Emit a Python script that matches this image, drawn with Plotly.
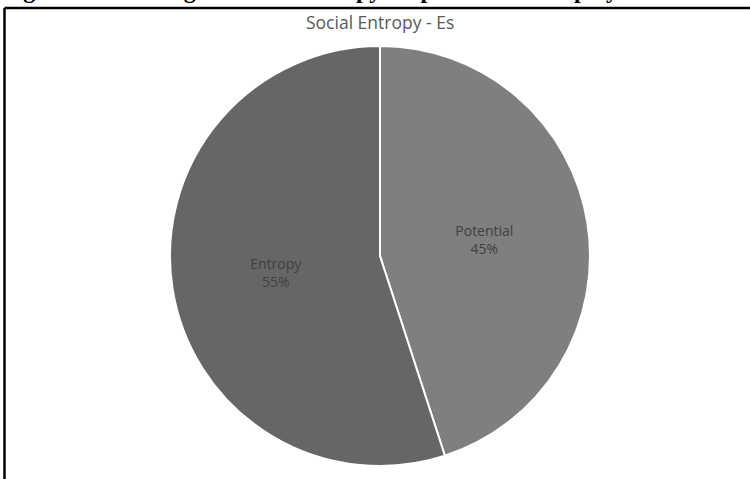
import plotly.graph_objects as go

labels = ["Potential", "Entropy"]
values = [45, 55]
colors = ["#7f7f7f", "#666666"]

W, H = 750, 479
cx, cy, r = 380, 256, 210

fig = go.Figure(go.Pie(
    labels=labels,
    values=values,
    sort=False,
    direction="clockwise",
    rotation=0,
    marker=dict(colors=colors, line=dict(color="white", width=2)),
    textinfo="label+percent",
    texttemplate="%{label}<br>%{percent:.0%}",
    textposition="inside",
    insidetextorientation="horizontal",
    textfont=dict(family="Open Sans, sans-serif", size=14, color="#404040"),
    domain=dict(x=[(cx - r) / W, (cx + r) / W], y=[1 - (cy + r) / H, 1 - (cy - r) / H]),
    showlegend=False,
    hoverinfo="label+percent",
))

fig.add_shape(type="line", xref="paper", yref="paper",
              x0=4.5 / W, x1=1.05, y0=1 - 8 / H, y1=1 - 8 / H,
              line=dict(color="black", width=2.5))
fig.add_shape(type="line", xref="paper", yref="paper",
              x0=4.5 / W, x1=4.5 / W, y0=-0.05, y1=1 - 8 / H,
              line=dict(color="black", width=2.5))

fig.add_annotation(text="<b>Figure 6 Percentage of social entropy vs. potential of employees in</b>",
                   xref="paper", yref="paper", x=0, y=1 - 5 / H,
                   xanchor="left", yanchor="bottom", showarrow=False,
                   font=dict(family="Liberation Serif", size=24, color="black"))
fig.add_annotation(text="Social Entropy - Es",
                   xref="paper", yref="paper", x=380 / W, y=1 - 22 / H,
                   xanchor="center", yanchor="middle", showarrow=False,
                   font=dict(family="Open Sans, sans-serif", size=17.5, color="#595959"))

fig.update_layout(width=W, height=H, margin=dict(l=0, r=0, t=0, b=0),
                  paper_bgcolor="white", plot_bgcolor="white")
fig.write_html("out.html")
